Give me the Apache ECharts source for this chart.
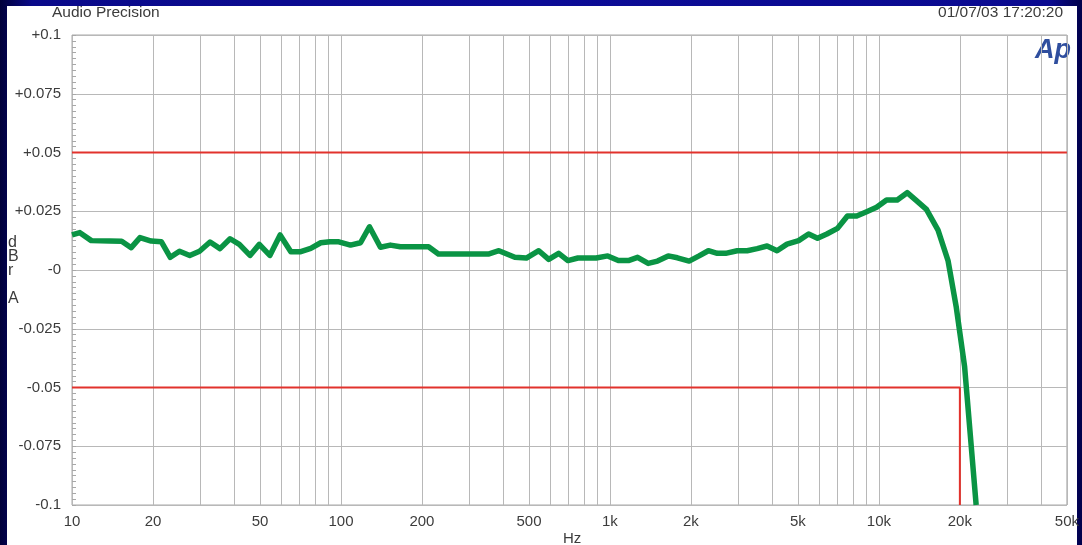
<!DOCTYPE html>
<html><head><meta charset="utf-8">
<script src="https://cdn.jsdelivr.net/npm/echarts@6/dist/echarts.min.js"></script>
<style>
html,body{margin:0;padding:0;width:1082px;height:545px;overflow:hidden;
background:linear-gradient(90deg,#00003a 0%,#0a0a8a 3%,#0c0c96 50%,#0a0a90 97%,#00004a 100%);}
#panel{position:absolute;left:7px;top:6px;width:1070px;height:539px;background:#fff;}
#c{position:absolute;left:0;top:0;width:1082px;height:545px;}
</style></head>
<body><div id="panel"></div><div id="c"></div>
<script>
// Measured response (frequency in Hz, level in dBrA)
const freqs = [10,10.7,11.8,13.8,15.3,16.6,17.9,19.7,21.5,23.2,25.1,27.4,29.8,32.6,35.5,38.7,41.9,45.9,49.7,54.4,59.4,65.1,70.9,77.2,84.1,91,98.2,108.5,118.2,127.6,140.2,152.6,166.2,179.9,194.3,211.6,230.3,250.9,273.3,297.6,324.1,353,386.6,443,489,543.8,592.1,644.9,697.9,760.1,827.7,888.3,981.3,1075,1171,1267,1388,1503,1647,1782,1970,2145,2322,2507,2691,2974,3238,3526,3839,4181,4553,5030,5478,5912,6404,7015,7638,8270,9005,9806,10679,11700,12740,13790,15020,16590,18070,19400,20820,22990];
const levels = [0.0149,0.0159,0.0125,0.0123,0.0122,0.0095,0.0138,0.0123,0.012,0.0054,0.008,0.0062,0.008,0.0119,0.0091,0.0133,0.0109,0.0062,0.0109,0.0062,0.0149,0.0078,0.0078,0.0092,0.0116,0.012,0.012,0.0106,0.0116,0.0184,0.0097,0.0106,0.0099,0.0099,0.0099,0.0099,0.0068,0.0068,0.0068,0.0068,0.0068,0.0068,0.0082,0.0054,0.0051,0.0082,0.0045,0.0071,0.004,0.0051,0.0051,0.0051,0.006,0.004,0.004,0.0054,0.0028,0.0038,0.006,0.0052,0.0038,0.006,0.0082,0.0071,0.0071,0.0082,0.0082,0.0091,0.0102,0.0082,0.011,0.0125,0.0153,0.0135,0.0153,0.0177,0.023,0.023,0.0248,0.0267,0.0298,0.0298,0.0329,0.0295,0.0258,0.017,0.004,-0.016,-0.041,-0.1];
// Limit lines
const upperLimitF = [10,50000];
const upperLimitV = [0.05,0.05];
const lowerLimitF = [10,20000,20000];
const lowerLimitV = [-0.05,-0.05,-0.1];
// Axis ticks
const xGridValues = [10,20,30,40,50,60,70,80,90,100,200,300,400,500,600,700,800,900,1000,2000,3000,4000,5000,6000,7000,8000,9000,10000,20000,30000,40000,50000];
const xLabelValues = [10,20,50,100,200,500,1000,2000,5000,10000,20000,50000];
const xLabelTexts = ['10','20','50','100','200','500','1k','2k','5k','10k','20k','50k'];
const yTickValues = [-0.1,-0.075,-0.05,-0.025,0,0.025,0.05,0.075,0.1];
const yTickTexts = ['-0.1','-0.075','-0.05','-0.025','-0','+0.025','+0.05','+0.075','+0.1'];

const zip = (a,b)=>a.map((v,i)=>[v,b[i]]);
const font = '"Liberation Sans", Arial, Helvetica, sans-serif';
const txt = '#3c3c3c';
const chart = echarts.init(document.getElementById('c'));
chart.setOption({
  backgroundColor:'transparent',
  animation:false,
  grid:{left:72,top:35,right:11,bottom:40,show:true,borderColor:'#a8a8a8',borderWidth:1,backgroundColor:'transparent'},
  xAxis:{type:'log',logBase:10,min:10,max:50000,
    axisLine:{show:false},
    axisTick:{show:false,customValues:xGridValues},
    splitLine:{show:true,lineStyle:{color:'#b8b8b8',width:1}},
    axisLabel:{customValues:xLabelValues,color:txt,fontSize:15,fontFamily:font,margin:9,
      formatter:v=>{const i=xLabelValues.findIndex(x=>Math.abs(x-v)/x<1e-6);return i>=0?xLabelTexts[i]:'';}}
  },
  yAxis:{type:'value',min:-0.1,max:0.1,interval:0.025,
    axisLine:{show:false},
    axisTick:{show:true,inside:true,length:4,lineStyle:{color:'#a8a8a8'}},
    minorTick:{show:true,splitNumber:10,length:4,lineStyle:{color:'#a8a8a8'}},
    splitLine:{show:true,lineStyle:{color:'#b8b8b8',width:1}},
    axisLabel:{color:txt,fontSize:15,fontFamily:font,margin:11,
      formatter:v=>{const i=yTickValues.findIndex(x=>Math.abs(x-v)<1e-6);return i>=0?yTickTexts[i]:'';}}
  },
  series:[
    {type:'line',data:zip(upperLimitF,upperLimitV),symbol:'none',lineStyle:{color:'#e2322c',width:2},z:2,silent:true},
    {type:'line',data:zip(lowerLimitF,lowerLimitV),symbol:'none',lineStyle:{color:'#e2322c',width:2},z:2,silent:true},
    {type:'line',data:zip(freqs,levels),symbol:'none',lineStyle:{color:'#0a9444',width:5.5,join:'round'},z:3,silent:true}
  ],
  graphic:[
    {type:'text',left:52,top:5,style:{text:'Audio Precision',fill:txt,font:'15.5px '+font}},
    {type:'text',right:19,top:5,style:{text:'01/07/03 17:20:20',fill:txt,font:'15.5px '+font}},
    {type:'text',left:1035,top:37,style:{text:'Ap',fill:'#2f4e9e',font:'italic bold 27px '+font}},
    {type:'text',left:8,top:235,style:{text:'d\nB\nr\n\nA',fill:txt,font:'16px '+font,lineHeight:14}},
    {type:'text',left:563,top:531,style:{text:'Hz',fill:txt,font:'15px '+font}}
  ]
});
</script></body></html>
